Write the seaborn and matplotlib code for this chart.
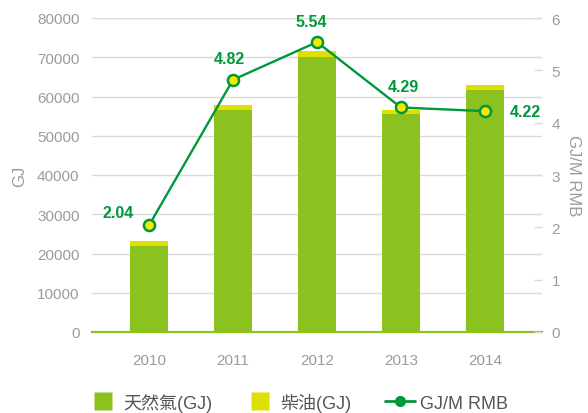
import matplotlib
matplotlib.use("Agg")
import matplotlib.pyplot as plt
import seaborn as sns
import pandas as pd
from matplotlib.lines import Line2D

# data
years = ["2010", "2011", "2012", "2013", "2014"]
gas = [21900, 56600, 70100, 55500, 61700]
diesel = [1300, 1300, 1500, 1000, 1200]
intensity = [2.04, 4.82, 5.54, 4.29, 4.22]
intensity_labels = ["2.04", "4.82", "5.54", "4.29", "4.22"]

GAS_C = "#8cc21f"
DIESEL_C = "#dde000"
LINE_C = "#00983a"
MARK_C = "#f7e800"
GRID_C = "#dadada"
TXT_C = "#9b9b9b"

sns.set_style("white")
plt.rcParams["font.family"] = ["Liberation Sans", "Noto Sans CJK TC", "DejaVu Sans"]

df = pd.DataFrame({"year": years, "gas": gas, "diesel": diesel, "ratio": intensity})
df["total"] = df["gas"] + df["diesel"]

fig = plt.figure(figsize=(5.88, 4.14), dpi=100)
ax = fig.add_axes([92 / 588, 1 - 333 / 414, 450 / 588, 314 / 414])

sns.barplot(data=df, x="year", y="total", color=DIESEL_C, width=0.45,
            saturation=1, linewidth=0, edgecolor="none", ax=ax, zorder=2)
sns.barplot(data=df, x="year", y="gas", color=GAS_C, width=0.45,
            saturation=1, linewidth=0, edgecolor="none", ax=ax, zorder=3)

ax.set_xlim(-0.68, 4.68)
ax.set_ylim(0, 80000)
ax.set_yticks(range(0, 80001, 10000))
ax.grid(axis="y", color=GRID_C, linewidth=1, zorder=0)
ax.set_axisbelow(True)
for s in ["left", "right", "top"]:
    ax.spines[s].set_visible(False)
ax.spines["bottom"].set_color(GAS_C)
ax.spines["bottom"].set_linewidth(1.6)
ax.spines["bottom"].set_zorder(5)
ax.tick_params(axis="both", length=0, labelsize=11, colors=TXT_C)
ax.tick_params(axis="y", pad=9)
ax.tick_params(axis="x", pad=15)
ax.set_xlabel("")
ax.set_ylabel("GJ", color=TXT_C, fontsize=12, labelpad=7)

ax2 = ax.twinx()
sns.lineplot(x=list(range(len(years))), y=intensity, ax=ax2, color=LINE_C,
             linewidth=1.7, marker="o", markersize=8, markerfacecolor=MARK_C,
             markeredgecolor=LINE_C, markeredgewidth=1.8, zorder=6)
ax2.set_ylim(0, 6)
ax2.set_xlim(-0.68, 4.68)
ax2.set_yticks(range(0, 7))
for s in ax2.spines.values():
    s.set_visible(False)
ax2.tick_params(axis="y", direction="in", length=6, width=1, color=GRID_C,
                labelsize=11, labelcolor=TXT_C, pad=7)
ax2.set_ylabel("GJ/M RMB", color=TXT_C, fontsize=12, rotation=270, labelpad=15)

offsets = [(-22, 9), (-3, 15), (-4, 15), (2, 15), (29, 0)]
for i, (v, lab) in enumerate(zip(intensity, intensity_labels)):
    dx, dy = offsets[i]
    ax2.annotate(lab, (i, v), xytext=(dx, dy), textcoords="offset points",
                 ha="center", va="center", color=LINE_C, fontsize=11.5,
                 fontweight="bold", zorder=7)

handles = [
    Line2D([0], [0], linestyle="none", marker="s", markersize=13,
           markerfacecolor=GAS_C, markeredgecolor="none"),
    Line2D([0], [0], linestyle="none", marker="s", markersize=13,
           markerfacecolor=DIESEL_C, markeredgecolor="none"),
    Line2D([0], [0], color=LINE_C, linewidth=2, marker="o", markersize=7,
           markerfacecolor=LINE_C, markeredgecolor=LINE_C),
]
fig.legend(handles, ["天然氣(GJ)", "柴油(GJ)", "GJ/M RMB"], loc="center",
           bbox_to_anchor=(0.507, 1 - 403 / 414), ncol=3, frameon=False,
           fontsize=13, labelcolor="#555555", handlelength=1.65,
           columnspacing=1.85, handletextpad=0.3)

fig.savefig("out.png", dpi=100)
